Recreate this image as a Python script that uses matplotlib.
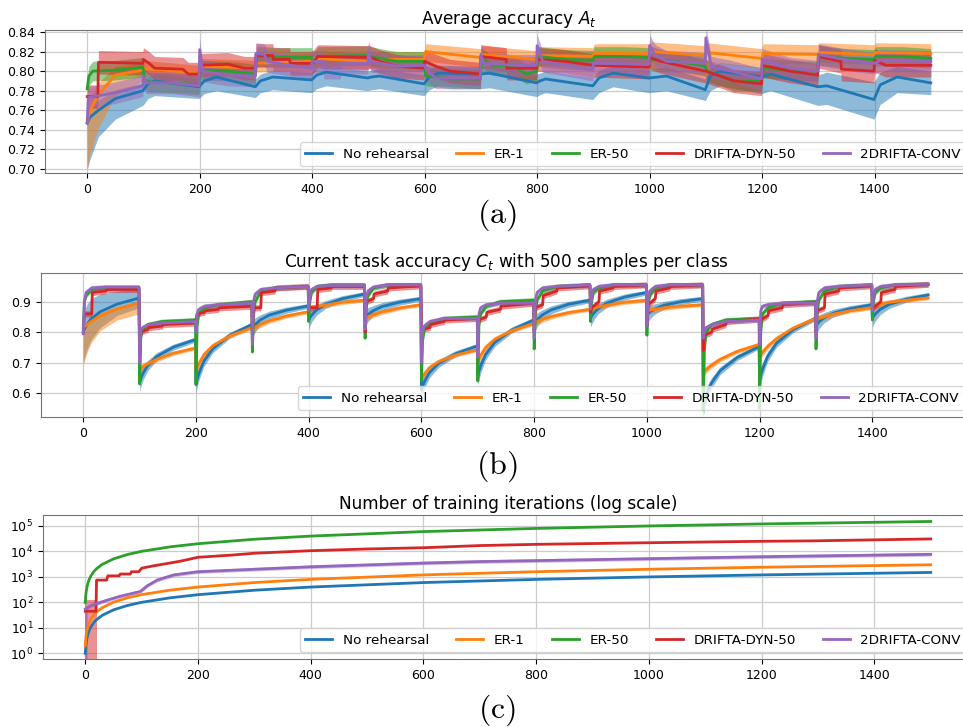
import numpy as np
import matplotlib.pyplot as plt

labels = ['No rehearsal', 'ER-1', 'ER-50', 'DRIFTA-DYN-50', '2DRIFTA-CONV']
colors = ['tab:blue', 'tab:orange', 'tab:green', 'tab:red', 'tab:purple']

# ---------------- (a) average accuracy ----------------
a_x_nr = [0, 5, 20, 50, 99, 108, 120, 199, 208, 230, 299, 308, 330, 399, 408, 425, 499, 505, 520,
          599, 608, 625, 699, 715, 799, 805, 815, 899, 910, 935, 999, 1030, 1099, 1108, 1125, 1199,
          1215, 1299, 1315, 1399, 1410, 1440, 1500]
a_nr = [0.747, 0.753, 0.760, 0.772, 0.780, 0.787, 0.790, 0.784, 0.790, 0.794, 0.784, 0.790, 0.794,
        0.791, 0.796, 0.799, 0.793, 0.794, 0.795, 0.787, 0.794, 0.798, 0.797, 0.798, 0.788, 0.790,
        0.792, 0.785, 0.793, 0.798, 0.793, 0.795, 0.781, 0.795, 0.800, 0.794, 0.797, 0.784, 0.785,
        0.771, 0.786, 0.794, 0.788]
a_nr_lo = [0.700, 0.710, 0.733, 0.751, 0.765, 0.772, 0.775, 0.772, 0.777, 0.780, 0.773, 0.778,
           0.781, 0.778, 0.782, 0.785, 0.780, 0.781, 0.782, 0.775, 0.781, 0.785, 0.782, 0.783, 0.774,
           0.776, 0.778, 0.771, 0.778, 0.784, 0.778, 0.780, 0.770, 0.780, 0.785, 0.777, 0.780, 0.765,
           0.766, 0.751, 0.766, 0.778, 0.776]
a_nr_hi = [0.752, 0.760, 0.770, 0.781, 0.788, 0.794, 0.797, 0.792, 0.797, 0.801, 0.792, 0.797,
           0.801, 0.799, 0.803, 0.806, 0.800, 0.801, 0.803, 0.796, 0.802, 0.806, 0.805, 0.806, 0.797,
           0.798, 0.800, 0.794, 0.801, 0.806, 0.802, 0.804, 0.792, 0.804, 0.809, 0.804, 0.807, 0.796,
           0.799, 0.789, 0.799, 0.805, 0.800]

a_x_er1 = [0, 5, 20, 50, 99, 102, 199, 202, 299, 302, 399, 402, 499, 502, 599, 602, 699, 702, 799,
           802, 899, 902, 999, 1002, 1099, 1102, 1199, 1202, 1299, 1302, 1399, 1402, 1500]
a_er1 = [0.748, 0.760, 0.776, 0.796, 0.801, 0.803, 0.798, 0.805, 0.803, 0.808, 0.810, 0.813, 0.810,
         0.812, 0.812, 0.820, 0.814, 0.817, 0.812, 0.816, 0.815, 0.818, 0.818, 0.820, 0.816, 0.819,
         0.813, 0.818, 0.817, 0.819, 0.817, 0.819, 0.818]
a_er1_lo = [0.700, 0.715, 0.742, 0.775, 0.790, 0.794, 0.789, 0.796, 0.794, 0.799, 0.801, 0.804, 0.801,
            0.803, 0.803, 0.810, 0.804, 0.807, 0.802, 0.806, 0.805, 0.808, 0.808, 0.810, 0.806, 0.809,
            0.803, 0.808, 0.807, 0.809, 0.807, 0.809, 0.808]
a_er1_hi = [0.752, 0.772, 0.788, 0.805, 0.808, 0.811, 0.806, 0.813, 0.811, 0.816, 0.818, 0.821, 0.818,
            0.820, 0.820, 0.828, 0.823, 0.826, 0.821, 0.825, 0.824, 0.828, 0.828, 0.830, 0.826, 0.829,
            0.823, 0.828, 0.827, 0.829, 0.827, 0.829, 0.828]

a_x_er50 = [0, 3, 10, 50, 99, 102, 110, 150, 199, 202, 250, 299, 302, 350, 399, 402, 410, 499, 502,
            550, 599, 602, 650, 699, 702, 720, 760, 780, 799, 802, 850, 899, 902, 950, 999, 1002,
            1050, 1099, 1102, 1150, 1199, 1202, 1250, 1299, 1302, 1350, 1399, 1402, 1450, 1500]
a_er50 = [0.782, 0.795, 0.800, 0.801, 0.804, 0.792, 0.789, 0.788, 0.786, 0.801, 0.800, 0.797, 0.815,
          0.814, 0.814, 0.808, 0.815, 0.816, 0.815, 0.810, 0.810, 0.795, 0.792, 0.792, 0.813, 0.806,
          0.805, 0.797, 0.800, 0.815, 0.812, 0.811, 0.815, 0.815, 0.814, 0.812, 0.810, 0.805, 0.800,
          0.790, 0.790, 0.803, 0.801, 0.800, 0.816, 0.813, 0.812, 0.815, 0.815, 0.813]

a_x_dyn = [0, 19, 20, 99, 100, 110, 120, 170, 180, 199, 200, 250, 280, 299, 300, 330, 331, 360, 361,
           399, 400, 410, 499, 500, 520, 550, 599, 600, 620, 645, 699, 700, 745, 746, 799, 800, 850,
           899, 900, 999, 1000, 1020, 1099, 1100, 1150, 1199, 1200, 1250, 1299, 1300, 1340, 1341,
           1399, 1400, 1420, 1500]
a_dyn = [0.774, 0.774, 0.809, 0.808, 0.812, 0.808, 0.803, 0.802, 0.797, 0.797, 0.806, 0.807, 0.803,
         0.803, 0.816, 0.816, 0.812, 0.812, 0.808, 0.808, 0.808, 0.815, 0.814, 0.815, 0.810, 0.805,
         0.803, 0.810, 0.805, 0.800, 0.797, 0.815, 0.812, 0.803, 0.803, 0.812, 0.810, 0.806, 0.806,
         0.804, 0.814, 0.810, 0.800, 0.800, 0.790, 0.787, 0.806, 0.800, 0.796, 0.815, 0.810, 0.802,
         0.800, 0.811, 0.806, 0.806]

a_x_conv = [0, 2, 50, 99, 100, 105, 150, 199, 200, 205, 250, 299, 300, 315, 320, 360, 399, 400, 420,
            421, 450, 451, 499, 500, 505, 550, 599, 605, 620, 699, 700, 705, 760, 799, 800, 810, 850,
            899, 900, 999, 1000, 1010, 1030, 1099, 1100, 1110, 1145, 1199, 1200, 1250, 1299, 1300,
            1345, 1399, 1400, 1410, 1500]
a_conv = [0.747, 0.773, 0.778, 0.785, 0.795, 0.788, 0.788, 0.785, 0.822, 0.800, 0.796, 0.795, 0.818,
          0.817, 0.810, 0.806, 0.803, 0.810, 0.810, 0.803, 0.803, 0.808, 0.808, 0.820, 0.810, 0.805,
          0.806, 0.800, 0.793, 0.793, 0.817, 0.808, 0.806, 0.806, 0.826, 0.810, 0.806, 0.801, 0.808,
          0.807, 0.826, 0.816, 0.810, 0.808, 0.834, 0.804, 0.800, 0.792, 0.812, 0.803, 0.800, 0.817,
          0.812, 0.808, 0.808, 0.811, 0.810]

# half spread of the shaded band for ER-50, DRIFTA-DYN-50, 2DRIFTA-CONV
a_spread = [0.010, 0.012, 0.011]

# ---------------- (b) current task accuracy ----------------
task_start = [0, 100, 200, 300, 400, 500, 600, 700, 800, 900, 1000, 1100, 1200, 1300, 1400]
b_off = [0, 2, 6, 14, 30, 60, 99]
b_nr = [[0.800, 0.810, 0.824, 0.844, 0.867, 0.892, 0.912],
        [0.635, 0.648, 0.665, 0.690, 0.720, 0.751, 0.776],
        [0.628, 0.646, 0.669, 0.705, 0.746, 0.790, 0.825],
        [0.810, 0.817, 0.826, 0.840, 0.856, 0.872, 0.886],
        [0.840, 0.848, 0.858, 0.873, 0.891, 0.910, 0.925],
        [0.845, 0.851, 0.859, 0.870, 0.884, 0.898, 0.910],
        [0.610, 0.623, 0.640, 0.667, 0.697, 0.729, 0.755],
        [0.655, 0.672, 0.694, 0.727, 0.766, 0.807, 0.840],
        [0.825, 0.832, 0.842, 0.856, 0.873, 0.891, 0.905],
        [0.845, 0.853, 0.863, 0.878, 0.896, 0.915, 0.930],
        [0.855, 0.860, 0.867, 0.876, 0.888, 0.900, 0.910],
        [0.555, 0.573, 0.597, 0.632, 0.674, 0.717, 0.753],
        [0.640, 0.659, 0.683, 0.720, 0.764, 0.809, 0.846],
        [0.820, 0.826, 0.835, 0.847, 0.862, 0.877, 0.890],
        [0.845, 0.852, 0.861, 0.875, 0.891, 0.908, 0.922]]
b_er1 = [[0.814, 0.818, 0.824, 0.835, 0.853, 0.876, 0.896],
         [0.678, 0.681, 0.687, 0.696, 0.711, 0.731, 0.748],
         [0.670, 0.683, 0.700, 0.726, 0.756, 0.788, 0.814],
         [0.810, 0.813, 0.817, 0.825, 0.837, 0.853, 0.867],
         [0.875, 0.876, 0.879, 0.883, 0.889, 0.898, 0.905],
         [0.845, 0.847, 0.851, 0.857, 0.866, 0.879, 0.890],
         [0.645, 0.654, 0.665, 0.683, 0.703, 0.725, 0.742],
         [0.700, 0.712, 0.727, 0.750, 0.777, 0.805, 0.828],
         [0.830, 0.832, 0.836, 0.842, 0.851, 0.864, 0.875],
         [0.875, 0.876, 0.879, 0.883, 0.889, 0.898, 0.905],
         [0.870, 0.871, 0.873, 0.875, 0.880, 0.885, 0.890],
         [0.667, 0.671, 0.679, 0.691, 0.711, 0.737, 0.760],
         [0.720, 0.726, 0.736, 0.753, 0.779, 0.814, 0.845],
         [0.840, 0.842, 0.845, 0.850, 0.859, 0.870, 0.880],
         [0.885, 0.886, 0.888, 0.892, 0.898, 0.905, 0.912]]
# band half widths along a task, first task has its own wide band
b_nr_w = [0.030, 0.027, 0.022, 0.017, 0.013, 0.010, 0.008]
b_er1_w = [0.015, 0.013, 0.011, 0.010, 0.008, 0.007, 0.006]
b_nr_t0_lo = [0.700, 0.715, 0.740, 0.775, 0.815, 0.855, 0.880]
b_nr_t0_hi = [0.850, 0.870, 0.890, 0.910, 0.925, 0.935, 0.940]
b_er1_t0_lo = [0.690, 0.705, 0.730, 0.765, 0.805, 0.840, 0.860]
b_er1_t0_hi = [0.820, 0.828, 0.838, 0.850, 0.865, 0.885, 0.900]

b_off_g = [0, 2, 5, 15, 40, 99]
b_er50 = [[0.800, 0.900, 0.920, 0.940, 0.945, 0.945], [0.630, 0.780, 0.810, 0.825, 0.835, 0.840],
          [0.630, 0.820, 0.860, 0.880, 0.890, 0.900], [0.735, 0.850, 0.900, 0.935, 0.945, 0.950],
          [0.835, 0.900, 0.930, 0.950, 0.955, 0.955], [0.780, 0.880, 0.920, 0.945, 0.955, 0.955],
          [0.640, 0.770, 0.810, 0.830, 0.845, 0.850], [0.640, 0.820, 0.860, 0.885, 0.900, 0.905],
          [0.745, 0.860, 0.905, 0.935, 0.950, 0.955], [0.835, 0.900, 0.930, 0.945, 0.955, 0.955],
          [0.790, 0.890, 0.920, 0.945, 0.955, 0.955], [0.545, 0.740, 0.800, 0.825, 0.840, 0.845],
          [0.550, 0.800, 0.860, 0.880, 0.895, 0.900], [0.745, 0.860, 0.905, 0.935, 0.950, 0.955],
          [0.840, 0.900, 0.930, 0.945, 0.955, 0.957]]
b_conv = [[0.795, 0.900, 0.930, 0.945, 0.948, 0.948], [0.700, 0.800, 0.815, 0.825, 0.830, 0.835],
          [0.800, 0.860, 0.875, 0.885, 0.890, 0.895], [0.760, 0.900, 0.925, 0.940, 0.945, 0.950],
          [0.870, 0.920, 0.940, 0.950, 0.953, 0.953], [0.810, 0.910, 0.935, 0.948, 0.955, 0.955],
          [0.700, 0.800, 0.820, 0.835, 0.845, 0.845], [0.720, 0.860, 0.880, 0.890, 0.895, 0.895],
          [0.780, 0.900, 0.930, 0.945, 0.950, 0.955], [0.875, 0.920, 0.940, 0.950, 0.955, 0.955],
          [0.820, 0.910, 0.935, 0.950, 0.955, 0.955], [0.780, 0.800, 0.815, 0.825, 0.835, 0.840],
          [0.760, 0.870, 0.885, 0.890, 0.895, 0.895], [0.780, 0.900, 0.930, 0.945, 0.950, 0.955],
          [0.870, 0.920, 0.940, 0.950, 0.955, 0.957]]
b_off_r = [0, 2, 15, 16, 40, 41, 99]
b_dyn = [[0.800, 0.860, 0.860, 0.930, 0.935, 0.940, 0.940], [0.700, 0.800, 0.810, 0.815, 0.820, 0.825, 0.830],
         [0.840, 0.860, 0.865, 0.870, 0.875, 0.880, 0.885], [0.780, 0.880, 0.880, 0.930, 0.935, 0.945, 0.950],
         [0.880, 0.880, 0.880, 0.940, 0.945, 0.950, 0.950], [0.800, 0.900, 0.910, 0.925, 0.935, 0.945, 0.952],
         [0.800, 0.810, 0.815, 0.825, 0.835, 0.840, 0.845], [0.800, 0.840, 0.850, 0.865, 0.875, 0.885, 0.895],
         [0.800, 0.880, 0.890, 0.920, 0.935, 0.945, 0.952], [0.865, 0.880, 0.900, 0.935, 0.945, 0.950, 0.955],
         [0.820, 0.890, 0.910, 0.935, 0.945, 0.950, 0.955], [0.740, 0.790, 0.800, 0.810, 0.825, 0.835, 0.843],
         [0.820, 0.840, 0.855, 0.870, 0.880, 0.890, 0.897], [0.800, 0.870, 0.880, 0.925, 0.935, 0.945, 0.952],
         [0.875, 0.880, 0.900, 0.930, 0.940, 0.950, 0.957]]
b_spread = [0.008, 0.010, 0.008]

# ---------------- (c) training iterations ----------------
c_x = [0, 1, 2, 3, 5, 7, 10, 15, 20, 30, 50, 75, 100, 150, 200, 300, 400, 600, 800, 1000, 1200, 1500]
c_nr = [1, 2, 3, 4, 6, 8, 11, 16, 21, 31, 51, 76, 101, 151, 201, 301, 401, 601, 801, 1001, 1201, 1500]
c_er1 = [2, 4, 6, 8, 12, 16, 22, 32, 42, 62, 102, 152, 202, 302, 402, 602, 802, 1202, 1602, 2002,
         2402, 3000]
c_er50 = [100, 200, 300, 400, 600, 800, 1100, 1600, 2100, 3100, 5100, 7600, 10100, 15100, 20100,
          30100, 40100, 60100, 80100, 100100, 120100, 150000]
c_x_dyn = [0, 19, 20, 38, 40, 60, 62, 80, 82, 95, 100, 120, 150, 170, 200, 260, 300, 400, 500, 600,
           700, 800, 1000, 1200, 1290, 1500]
c_dyn = [45, 45, 750, 750, 1100, 1100, 1300, 1300, 1600, 1600, 2200, 2700, 3500, 4200, 5900, 7200,
         8500, 10700, 12500, 14000, 17000, 19000, 22000, 25000, 26000, 31000]
c_dyn_box_x = [0, 20]
c_dyn_box_lo = [0.1, 0.1]
c_dyn_box_hi = [120, 120]
c_x_conv = [0, 3, 10, 20, 40, 60, 85, 98, 110, 128, 157, 200, 400, 600, 700, 1000, 1200, 1500]
c_conv = [55, 60, 75, 90, 125, 170, 230, 270, 450, 760, 1200, 1600, 2500, 3500, 4000, 5200, 6200, 7700]
c_conv_box_x = [0, 3]
c_conv_box_lo = [0.1, 0.1]
c_conv_box_hi = [55, 60]

plt.rcParams['font.family'] = 'DejaVu Sans'
plt.rcParams['mathtext.fontset'] = 'dejavusans'

fig = plt.figure(figsize=(9.63, 7.27), dpi=100)
ax_a = fig.add_axes([45 / 963, 1 - 173 / 727, 928 / 963, 143 / 727])
ax_b = fig.add_axes([41 / 963, 1 - 417 / 727, 930 / 963, 144 / 727])
ax_c = fig.add_axes([43 / 963, 1 - 659 / 727, 930 / 963, 144 / 727])

lw = 2.0
fa = 0.5

# --- panel a
ax_a.fill_between(a_x_nr, a_nr_lo, a_nr_hi, color=colors[0], alpha=fa, lw=0)
ax_a.plot(a_x_nr, a_nr, color=colors[0], lw=lw, label=labels[0])
ax_a.fill_between(a_x_er1, a_er1_lo, a_er1_hi, color=colors[1], alpha=fa, lw=0)
ax_a.plot(a_x_er1, a_er1, color=colors[1], lw=lw, label=labels[1])
for xs, ys, c, lab, w in [(a_x_er50, a_er50, colors[2], labels[2], a_spread[0]),
                          (a_x_dyn, a_dyn, colors[3], labels[3], a_spread[1]),
                          (a_x_conv, a_conv, colors[4], labels[4], a_spread[2])]:
    ys = np.array(ys)
    ax_a.fill_between(xs, ys - w, ys + w, color=c, alpha=fa, lw=0)
    ax_a.plot(xs, ys, color=c, lw=lw, label=lab)
ax_a.set_ylim(0.696, 0.842)
ax_a.set_yticks(np.arange(0.70, 0.841, 0.02))
ax_a.set_title('Average accuracy $A_t$', fontsize=12.2, pad=4)

# --- panel b
def task_curve(offsets, values):
    xs = np.concatenate([t + np.array(offsets) for t in task_start])
    ys = np.concatenate([np.array(v) for v in values])
    return xs, ys

xb, yb = task_curve(b_off, b_nr)
lo = np.concatenate([b_nr_t0_lo] + [np.array(v) - b_nr_w for v in b_nr[1:]])
hi = np.concatenate([b_nr_t0_hi] + [np.array(v) + b_nr_w for v in b_nr[1:]])
ax_b.fill_between(xb, lo, hi, color=colors[0], alpha=fa, lw=0)
ax_b.plot(xb, yb, color=colors[0], lw=lw, label=labels[0])
xb, yb = task_curve(b_off, b_er1)
lo = np.concatenate([b_er1_t0_lo] + [np.array(v) - b_er1_w for v in b_er1[1:]])
hi = np.concatenate([b_er1_t0_hi] + [np.array(v) + b_er1_w for v in b_er1[1:]])
ax_b.fill_between(xb, lo, hi, color=colors[1], alpha=fa, lw=0)
ax_b.plot(xb, yb, color=colors[1], lw=lw, label=labels[1])
for off, vals, c, lab, w in [(b_off_g, b_er50, colors[2], labels[2], b_spread[0]),
                             (b_off_r, b_dyn, colors[3], labels[3], b_spread[1]),
                             (b_off_g, b_conv, colors[4], labels[4], b_spread[2])]:
    xb, yb = task_curve(off, vals)
    ax_b.fill_between(xb, yb - w, yb + w, color=c, alpha=fa, lw=0)
    ax_b.plot(xb, yb, color=c, lw=lw, label=lab)
ax_b.set_ylim(0.522, 0.994)
ax_b.set_yticks([0.6, 0.7, 0.8, 0.9])
ax_b.set_title('Current task accuracy $C_t$ with 500 samples per class', fontsize=12.2, pad=4)

# --- panel c
ax_c.set_yscale('log')
ax_c.plot(c_x, c_nr, color=colors[0], lw=lw, label=labels[0])
ax_c.plot(c_x, c_er1, color=colors[1], lw=lw, label=labels[1])
ax_c.plot(c_x, c_er50, color=colors[2], lw=lw, label=labels[2])
ax_c.fill_between(c_dyn_box_x, c_dyn_box_lo, c_dyn_box_hi, color=colors[3], alpha=fa, lw=0)
ax_c.plot(c_x_dyn, c_dyn, color=colors[3], lw=lw, label=labels[3])
ax_c.fill_between(c_conv_box_x, c_conv_box_lo, c_conv_box_hi, color=colors[4], alpha=0.8, lw=0)
cy = np.array(c_conv)
ax_c.fill_between(c_x_conv, cy * 0.85, cy * 1.18, color=colors[4], alpha=0.4, lw=0)
ax_c.plot(c_x_conv, c_conv, color=colors[4], lw=lw, label=labels[4])
ax_c.set_ylim(10 ** -0.22, 10 ** 5.43)
ax_c.set_yticks([1, 10, 100, 1000, 10000, 100000])
ax_c.set_title('Number of training iterations (log scale)', fontsize=12.2, pad=4)

for ax in (ax_a, ax_b, ax_c):
    ax.set_xlim(-75, 1575)
    ax.set_xticks([0, 200, 400, 600, 800, 1000, 1200, 1400])
    ax.grid(True, color='#cccccc', lw=0.9)
    ax.set_axisbelow(True)
    ax.tick_params(labelsize=9)
    for s in ax.spines.values():
        s.set_color('0.45')
    ax.legend(loc='lower right', ncol=5, fontsize=9.7)

for y, t in [(1 - 215 / 727, '(a)'), (1 - 466 / 727, '(b)'), (1 - 710 / 727, '(c)')]:
    fig.text(497 / 963, y, r'$\mathrm{' + t + '}$', math_fontfamily='cm', fontsize=23,
             ha='center', va='center')

fig.savefig('out.png', dpi=100)
